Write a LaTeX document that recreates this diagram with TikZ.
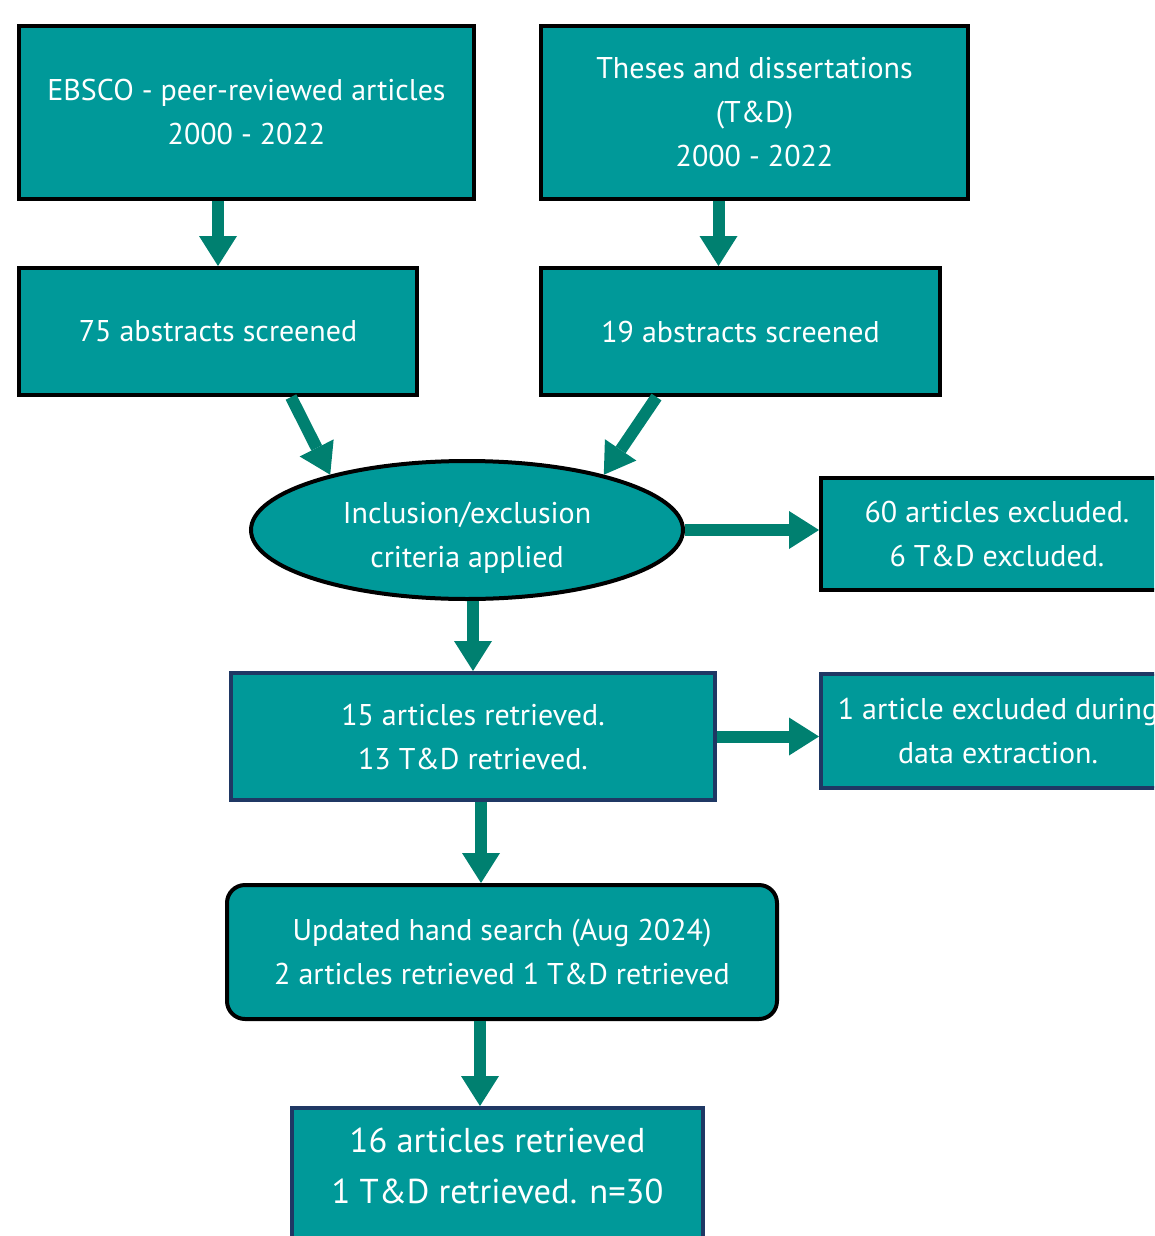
\documentclass[tikz,border=0pt]{standalone}
\usepackage{fontspec}
\setmainfont{PT Sans}
\usetikzlibrary{arrows.meta, positioning, shapes.geometric}
\definecolor{boxteal}{RGB}{0,153,153}
\definecolor{arrowteal}{RGB}{0,128,112}
\definecolor{boxnavy}{RGB}{31,56,100}

\begin{document}
\begin{tikzpicture}[
    x=1pt,
    y=-1pt,
    every node/.style={text=white, align=center, font=\fontsize{30}{44}\selectfont},
    box/.style={rectangle, draw=black, line width=4pt, fill=boxteal, inner sep=0pt},
    navybox/.style={box, draw=boxnavy},
    flow/.style={draw, color=arrowteal, line width=12pt,
                 -{Triangle[length=30pt, width=38pt, line width=0pt]}},
]
    \clip (0,0) rectangle (1154,1236);

    \node[box, minimum width=455pt, minimum height=173pt] (EBSCO) at (246.5,112.5) {EBSCO - peer-reviewed articles\\2000 - 2022};
    \node[box, minimum width=427pt, minimum height=173pt] (TD)    at (754.5,112.5) {Theses and dissertations\\(T\&D)\\2000 - 2022};

    \node[box, minimum width=398pt, minimum height=127pt] (abs75) at (218,331.5) {75 abstracts screened};
    \node[box, minimum width=399pt, minimum height=127pt] (abs19) at (740.5,331.5) {19 abstracts screened};

    \node[ellipse, draw=black, line width=4pt, fill=boxteal, inner sep=0pt,
          minimum width=432pt, minimum height=138pt] (crit) at (467,530) {\rule{0pt}{36pt}Inclusion/exclusion\\criteria applied};
    \node[box, minimum width=352pt, minimum height=112pt] (excl60) at (997,534) {60 articles excluded.\\6 T\&D excluded.};

    \node[navybox, minimum width=484pt, minimum height=127pt] (ret15) at (473,736.5) {15 articles retrieved.\\13 T\&D retrieved.};
    \node[navybox, minimum width=354pt, minimum height=114pt] (excl1) at (998,731) {1 article excluded during\\data extraction.};

    \node[box, rounded corners=18pt, minimum width=550pt, minimum height=134pt] (upd) at (502,952) {Updated hand search (Aug 2024)\\2 articles retrieved 1 T\&D retrieved};

    % box runs past the lower edge of the page
    \node[navybox, minimum width=411pt, minimum height=164pt, font=\fontsize{34.5}{51}\selectfont] (final) at (497.5,1190) {16 articles retrieved\\1 T\&D retrieved. n=30\rule[-48pt]{0pt}{1pt}};

    \path[every edge/.style=flow]
        (abs75.north |- EBSCO.south)                 edge (abs75.north)
        ([xshift=-22pt]abs19.north |- TD.south)      edge ([xshift=-22pt]abs19.north)
        ([xshift=73pt]abs75.south)                   edge (crit.158)
        ([xshift=-84pt]abs19.south)                  edge (crit.22)
        (crit.east)                                  edge (crit.east -| excl60.west)
        (ret15.north |- crit.south)                  edge (ret15.north)
        (ret15.east)                                 edge (excl1.west |- ret15.east)
        ([xshift=8pt]ret15.south)                    edge ([xshift=8pt]ret15.south |- upd.north)
        ([xshift=-22pt]upd.south)                    edge ([xshift=-22pt]upd.south |- final.north)
    ;
\end{tikzpicture}
\end{document}
